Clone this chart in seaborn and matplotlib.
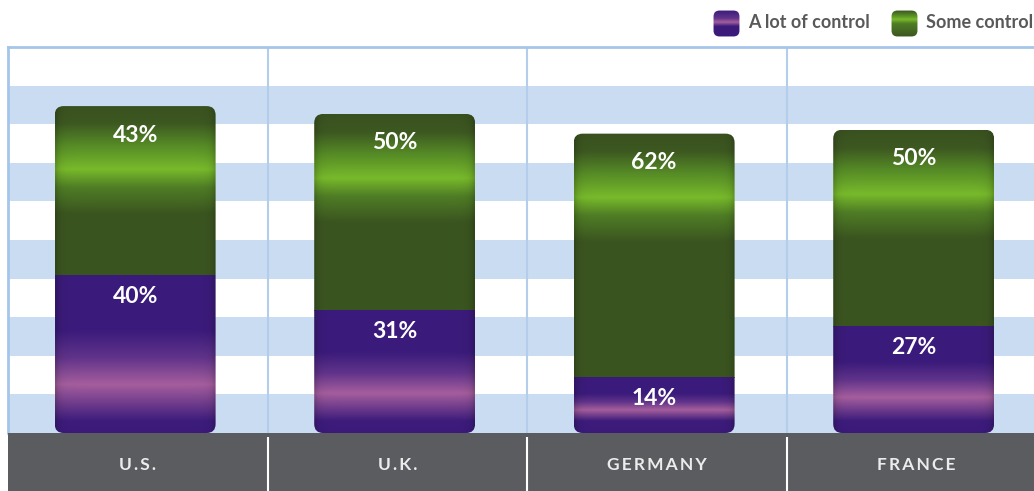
import numpy as np
import pandas as pd
import matplotlib.pyplot as plt
import seaborn as sns
from matplotlib.patches import FancyBboxPatch
from matplotlib.colors import to_rgb

# data
countries = ["U.S.", "U.K.", "GERMANY", "FRANCE"]
a_lot = [40, 31, 14, 27]
some = [43, 50, 62, 50]
series_names = ["A lot of control", "Some control"]

df = pd.DataFrame({"country": countries, "a_lot": a_lot, "some": some})
df["total"] = df["a_lot"] + df["some"]

sns.set_theme(style="white")
plt.rcParams['font.family'] = ['Lato', 'DejaVu Sans']

W, H = 1034, 491
fig = plt.figure(figsize=(W / 100, H / 100), dpi=100)
fig.patch.set_facecolor("white")

ax = fig.add_axes([8 / W, 58 / H, 1038 / W, 386 / H])
ymax = 98

# striped background
edges = np.linspace(0, ymax, 11)
for i in range(10):
    ax.axhspan(edges[i], edges[i + 1], color="#cadcf2" if i % 2 == 0 else "white",
               lw=0, zorder=0)
for xv in [0.5, 1.5, 2.5]:
    ax.axvline(xv, color="#b3cdeb", lw=1.5, zorder=1)

sns.barplot(data=df, x="country", y="total", color="#3b5520", width=0.62,
            errorbar=None, ax=ax)
sns.barplot(data=df, x="country", y="a_lot", color="#3b1b7b", width=0.62,
            errorbar=None, ax=ax)

ax.set_xlim(-0.5, 3.5)
ax.set_ylim(0, ymax)
ax.set_xticks([])
ax.set_yticks([])
ax.set_xlabel("")
ax.set_ylabel("")
for s in ["bottom", "right"]:
    ax.spines[s].set_visible(False)
for s in ["top", "left"]:
    ax.spines[s].set_color("#a6c5ea")
    ax.spines[s].set_linewidth(2)

# pixel scales
p0 = ax.transData.transform((0, 0))
p1 = ax.transData.transform((1, 1))
ppx = p1[0] - p0[0]
ppu = p1[1] - p0[1]


def column_img(pos, cols, n=400, edge=True):
    t = np.linspace(0, 1, n)
    rgb = np.array([to_rgb(c) for c in cols])
    col = np.stack([np.interp(t, pos, rgb[:, k]) for k in range(3)], axis=-1)
    m = 80
    img = np.repeat(col[:, None, :], m, axis=1)
    if edge:
        xs = np.linspace(0, 1, m)
        f = 1 - 0.18 * (np.exp(-xs / 0.025) + np.exp(-(1 - xs) / 0.025))
        img = img * f[None, :, None]
    return np.clip(img, 0, 1)


green_cols = ['#39511f', '#3d5821', '#568b26', '#78ba2b', '#4f7d25', '#3b5520', '#3b5520']
purple_cols = ['#3b1b7b', '#3b1b7b', '#60338a', '#a55e9d', '#3d1c7c', '#3b1a7a']

r_px = 9
for i, (gp, pp) in enumerate(zip(ax.containers[0], ax.containers[1])):
    gp.set_visible(False)
    pp.set_visible(False)
    x0, w = gp.get_x() - 0.01, gp.get_width()
    total, a = gp.get_height(), pp.get_height()

    clip = FancyBboxPatch((x0, 0), w, total,
                          boxstyle=f"round,pad=0,rounding_size={r_px / ppx}",
                          mutation_aspect=ppx / ppu, transform=ax.transData,
                          facecolor="none", edgecolor="none")
    ax.add_patch(clip)

    # green segment, highlight a fixed distance below the top
    hg = (total - a) * ppu
    gpos = np.array([0, 18, 40, 64, 82, 108, hg]) / hg
    im = ax.imshow(column_img(gpos, green_cols), extent=(x0, x0 + w, a, total),
                   origin="upper", aspect="auto", interpolation="bilinear", zorder=3)
    im.set_clip_path(clip)

    # purple segment, highlight near the bottom
    hp = a * ppu
    ud = hp - (12 + 0.62 * (hp - 12))
    hl = hp - (12 + 0.25 * (hp - 12))
    ld = hp - 12
    ppos = np.array([0, ud, (ud + hl) / 2, hl, ld, hp]) / hp
    im = ax.imshow(column_img(ppos, purple_cols), extent=(x0, x0 + w, 0, a),
                   origin="upper", aspect="auto", interpolation="bilinear", zorder=3)
    im.set_clip_path(clip)

    cx = x0 + w / 2
    ax.text(cx, total - 29 / ppu, f"{some[i]}%", ha="center", va="center",
            color="white", fontsize=16.5, fontweight="bold", zorder=5)
    ax.text(cx, a - 21 / ppu, f"{a_lot[i]}%", ha="center", va="center",
            color="white", fontsize=16.5, fontweight="bold", zorder=5)

ax.set_xlim(-0.5, 3.5)
ax.set_ylim(0, ymax)

# gray category band
band = fig.add_axes([8 / W, 0, 1038 / W, 58 / H])
band.set_facecolor("#5b5c60")
band.set_xlim(-0.5, 3.5)
band.set_ylim(0, 1)
band.set_xticks([])
band.set_yticks([])
for s in band.spines.values():
    s.set_visible(False)
band.vlines([0.5, 1.5, 2.5], 0, 0.93, color="white", lw=1.5)
for i, c in enumerate(countries):
    band.text(i, 0.45, "\u2009".join(c), ha="center", va="center",
              color="#ececec", fontsize=12.5, fontweight="bold")

# legend
legend_items = [(713, series_names[0], purple_cols, [0, 0.3, 0.45, 0.6, 1]),
                (891, series_names[1], green_cols, [0, 0.2, 0.35, 0.5, 1])]
for x_px, name, cols, pos in legend_items:
    ia = fig.add_axes([x_px / W, (H - 37) / H, 27 / W, 27 / H])
    ia.set_axis_off()
    cc = [cols[0], cols[2], cols[3], cols[1], cols[-1]] if cols is purple_cols else \
         [cols[0], cols[2], cols[3], cols[4], cols[-1]]
    box = FancyBboxPatch((0.02, 0.02), 0.96, 0.96,
                         boxstyle="round,pad=0,rounding_size=0.22",
                         transform=ia.transAxes, facecolor="none", edgecolor="none")
    ia.add_patch(box)
    im = ia.imshow(column_img(pos, cc, edge=False), extent=(0, 1, 0, 1),
                   aspect="auto", interpolation="bilinear")
    im.set_clip_path(box)
    ia.set_xlim(0, 1)
    ia.set_ylim(0, 1)
    fig.text((x_px + 35) / W, (H - 22) / H, name, ha="left", va="center",
             color="#595959", fontsize=13, fontweight="bold")

fig.savefig("out.png", dpi=100)
